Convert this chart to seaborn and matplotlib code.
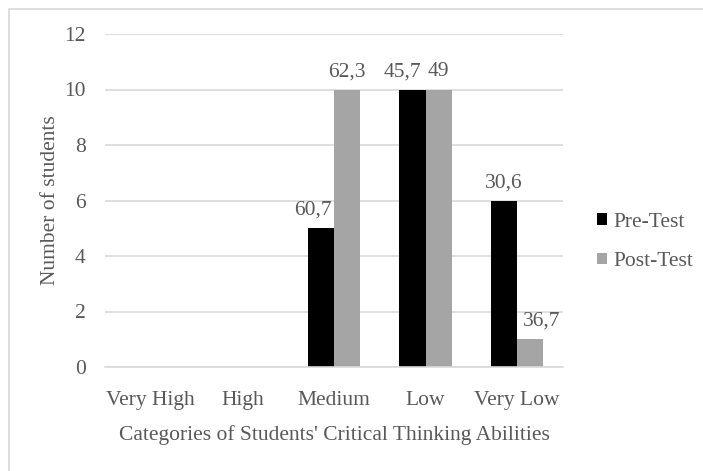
import matplotlib
matplotlib.use("Agg")
import matplotlib.pyplot as plt
import seaborn as sns
import pandas as pd
from matplotlib.patches import Rectangle

categories = ["Very High", "High", "Medium", "Low", "Very Low"]
series_names = ["Pre-Test", "Post-Test"]
pre_test = [0, 0, 5, 10, 6]
post_test = [0, 0, 10, 10, 1]
pre_labels = ["", "", "60,7", "45,7", "30,6"]
post_labels = ["", "", "62,3", "49", "36,7"]
y_ticks = [0, 2, 4, 6, 8, 10, 12]

# horizontal nudges (points) of the value labels, as in the original layout
pre_label_dx = [0, 0, -6, -7, 0]
post_label_dx = [0, 0, 0, 0, 8]

df = pd.DataFrame({
    "Category": categories * 2,
    "Series": [series_names[0]] * len(categories) + [series_names[1]] * len(categories),
    "Count": pre_test + post_test,
})

sns.set_theme(style="white")
plt.rcParams["font.family"] = ["Liberation Serif", "DejaVu Serif"]
TXT = "#595959"
FS = 15.5

fig = plt.figure(figsize=(7.03, 4.71), dpi=100)
ax = fig.add_axes([105 / 703, 1 - 367 / 471, (563 - 105) / 703, (367 - 34) / 471])

sns.barplot(data=df, x="Category", y="Count", hue="Series", order=categories,
            hue_order=series_names, palette=["#000000", "#A5A5A5"],
            width=0.57, gap=0, saturation=1, ax=ax, edgecolor="none", linewidth=0)

ax.set_ylim(0, 12)
ax.set_yticks(y_ticks)
ax.set_yticklabels([str(t) for t in y_ticks], color=TXT, fontsize=FS)
ax.tick_params(axis="x", colors=TXT, labelsize=FS, length=0, pad=17)
ax.tick_params(axis="y", colors=TXT, labelsize=FS, length=0, pad=14)
ax.yaxis.grid(True, color="#D9D9D9", linewidth=1.2)
ax.set_axisbelow(True)
for s in ["top", "right", "left"]:
    ax.spines[s].set_visible(False)
ax.spines["bottom"].set_color("#D9D9D9")
ax.spines["bottom"].set_linewidth(1.2)

ax.set_xlabel("Categories of Students' Critical Thinking Abilities", color=TXT,
              fontsize=FS, labelpad=11)
ax.set_ylabel("Number of students", color=TXT, fontsize=FS, labelpad=3)

for cont, labs, dxs in zip(ax.containers, [pre_labels, post_labels],
                           [pre_label_dx, post_label_dx]):
    anns = ax.bar_label(cont, labels=labs, color=TXT, fontsize=FS, padding=6)
    for a, dx in zip(anns, dxs):
        a.xyann = (dx, a.xyann[1])

handles, labels = ax.get_legend_handles_labels()
leg = ax.legend(handles, labels, loc="center left",
                bbox_to_anchor=(597 / 703, 1 - 242 / 471),
                bbox_transform=fig.transFigure, frameon=False, fontsize=FS,
                handlelength=0.45, handleheight=0.45, handletextpad=0.3,
                labelspacing=0.95, borderaxespad=0, borderpad=0)
for t in leg.get_texts():
    t.set_color(TXT)

fig.patches.append(Rectangle((9 / 703, -0.05), 1.1, 1 - 9 / 471 + 0.05,
                             transform=fig.transFigure, fill=False,
                             edgecolor="#D9D9D9", linewidth=1.2, zorder=-1))

fig.savefig("out.png", dpi=100)
